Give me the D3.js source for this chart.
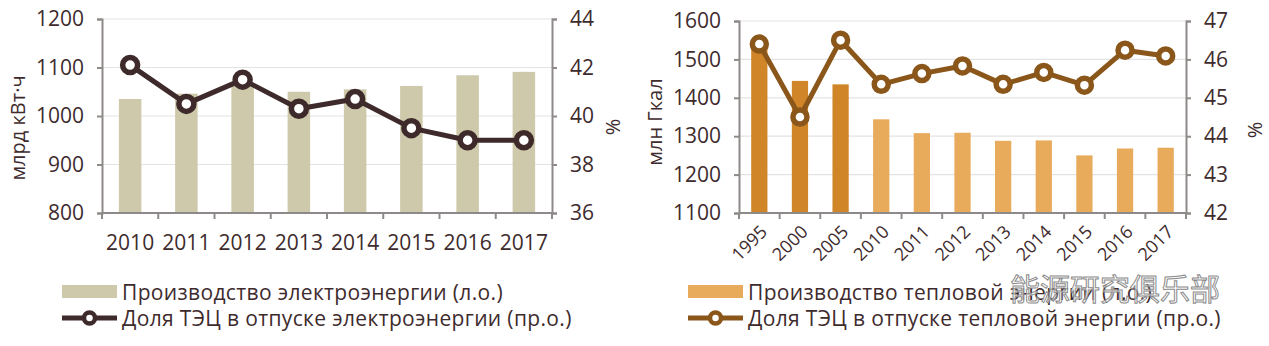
<!DOCTYPE html>
<html>
<head>
<meta charset="utf-8">
<script src="https://cdn.jsdelivr.net/npm/d3@7"></script>
<style>
  body { margin: 0; background: #fff; }
  svg { display: block; font-family: "Open Sans", sans-serif; }
</style>
</head>
<body>
<svg id="chart" width="1269" height="346"></svg>
<script>
// left chart: electricity
const elYears = ['2010', '2011', '2012', '2013', '2014', '2015', '2016', '2017'];
const elProduction = [1035, 1046, 1064, 1050, 1055, 1062, 1084, 1091];
const elShare = [42.1, 40.5, 41.5, 40.3, 40.7, 39.5, 39.0, 39.0];
const elLeftTicks = [800, 900, 1000, 1100, 1200];
const elRightTicks = [36, 38, 40, 42, 44];

// right chart: heat
const htYears = ['1995', '2000', '2005', '2010', '2011', '2012', '2013', '2014', '2015', '2016', '2017'];
const htProduction = [1530, 1444, 1435, 1344, 1308, 1309, 1288, 1289, 1250, 1268, 1270];
const htShare = [46.4, 44.5, 46.5, 45.35, 45.63, 45.83, 45.35, 45.66, 45.33, 46.24, 46.09];
const htLeftTicks = [1100, 1200, 1300, 1400, 1500, 1600];
const htRightTicks = [42, 43, 44, 45, 46, 47];

const textColor = '#3e2b2d';
const axisColor = '#8f8a8a';
const gridColor = '#e3e3e3';

const svg = d3.select('#chart');

function drawChart(opt) {
  const g = svg.append('g');
  const x = d3.scaleBand().domain(opt.cats).range([opt.left, opt.right])
    .paddingInner(0.6).paddingOuter(0.3);
  const yL = d3.scaleLinear().domain(d3.extent(opt.leftTicks)).range([opt.bottom, opt.top]);
  const yR = d3.scaleLinear().domain(d3.extent(opt.rightTicks)).range([opt.bottom, opt.top]);

  // grid
  g.selectAll('.grid').data(opt.leftTicks.slice(1)).enter().append('line')
    .attr('x1', opt.left).attr('x2', opt.right)
    .attr('y1', d => yL(d)).attr('y2', d => yL(d))
    .attr('stroke', gridColor).attr('stroke-width', 1.2);

  // bars
  g.selectAll('rect').data(opt.bars).enter().append('rect')
    .attr('x', (d, i) => x(opt.cats[i]))
    .attr('width', x.bandwidth())
    .attr('y', d => yL(d))
    .attr('height', d => opt.bottom - yL(d))
    .attr('fill', (d, i) => opt.barColor(i));

  // axes
  const la = g.append('g').attr('transform', `translate(${opt.left},0)`)
    .call(d3.axisLeft(yL).tickValues(opt.leftTicks).tickFormat(d3.format('d'))
      .tickSize(5).tickPadding(13));
  const ra = g.append('g').attr('transform', `translate(${opt.right},0)`)
    .call(d3.axisRight(yR).tickValues(opt.rightTicks).tickFormat(d3.format('d'))
      .tickSize(5).tickPadding(13));
  [la, ra].forEach(a => {
    a.select('.domain').attr('stroke', axisColor).attr('stroke-width', 2);
    a.selectAll('.tick line').attr('stroke', axisColor).attr('stroke-width', 2);
    a.selectAll('.tick text').attr('fill', textColor).style('font-size', '21px')
      .style('font-family', '"Open Sans", sans-serif');
  });

  // x axis line and ticks at band edges
  g.append('line').attr('x1', opt.left).attr('x2', opt.right)
    .attr('y1', opt.bottom).attr('y2', opt.bottom)
    .attr('stroke', axisColor).attr('stroke-width', 2);
  g.selectAll('.xt').data(d3.range(opt.cats.length + 1)).enter().append('line')
    .attr('x1', i => opt.left + i * x.step()).attr('x2', i => opt.left + i * x.step())
    .attr('y1', opt.bottom).attr('y2', opt.bottom + 6)
    .attr('stroke', axisColor).attr('stroke-width', 2);

  const cx = c => x(c) + x.bandwidth() / 2;
  if (opt.rotate) {
    g.selectAll('.xl').data(opt.cats).enter().append('text')
      .attr('transform', d => `translate(${cx(d) + 9},${opt.bottom + 20}) rotate(-45)`)
      .attr('text-anchor', 'end').attr('fill', textColor)
      .style('font-size', '18px').text(d => d);
  } else {
    g.selectAll('.xl').data(opt.cats).enter().append('text')
      .attr('x', d => cx(d)).attr('y', opt.bottom + 37)
      .attr('text-anchor', 'middle').attr('fill', textColor)
      .style('font-size', '21px').text(d => d);
  }

  // axis titles
  g.append('text').attr('transform', `translate(${opt.leftTitleX},${opt.leftTitleY}) rotate(-90)`)
    .attr('text-anchor', 'middle').attr('fill', textColor).style('font-size', '20px').text(opt.leftTitle);
  g.append('text').attr('transform', `translate(${opt.rightTitleX},${opt.rightTitleY}) rotate(-90)`)
    .attr('text-anchor', 'middle').attr('fill', textColor).style('font-size', '20px').text('%');

  // line
  const line = d3.line().x((d, i) => cx(opt.cats[i])).y(d => yR(d));
  g.append('path').datum(opt.line).attr('d', line)
    .attr('fill', 'none').attr('stroke', opt.lineColor).attr('stroke-width', 5)
    .attr('stroke-linejoin', 'round');
  g.selectAll('.mk').data(opt.line).enter().append('circle')
    .attr('cx', (d, i) => cx(opt.cats[i])).attr('cy', d => yR(d))
    .attr('r', opt.markerR).attr('fill', '#fff')
    .attr('stroke', opt.lineColor).attr('stroke-width', 5.5);

  // legend
  const lg = g.append('g').attr('transform', `translate(${opt.legendX},0)`);
  lg.append('rect').attr('x', 0).attr('y', 285).attr('width', 55).attr('height', 13)
    .attr('fill', opt.legendBarColor);
  lg.append('text').attr('x', 60).attr('y', 300).attr('fill', textColor)
    .style('font-size', '21px').style('letter-spacing', '0.35px').text(opt.legendBar);
  lg.append('line').attr('x1', 0).attr('x2', 55).attr('y1', 318).attr('y2', 318)
    .attr('stroke', opt.lineColor).attr('stroke-width', 5);
  lg.append('circle').attr('cx', 27.5).attr('cy', 318).attr('r', 5.5)
    .attr('fill', '#fff').attr('stroke', opt.lineColor).attr('stroke-width', 4.5);
  lg.append('text').attr('x', 60).attr('y', 326).attr('fill', textColor)
    .style('font-size', '21px').style('letter-spacing', '0.35px').text(opt.legendLine);
}

drawChart({
  cats: elYears, bars: elProduction, line: elShare,
  leftTicks: elLeftTicks, rightTicks: elRightTicks,
  left: 102, right: 552, top: 19, bottom: 213,
  barColor: () => '#cec9aa', legendBarColor: '#cec9aa',
  lineColor: '#3e2a2b', markerR: 7.5,
  leftTitle: 'млрд кВт·ч', leftTitleX: 25, leftTitleY: 128,
  rightTitleX: 620, rightTitleY: 127,
  legendX: 62,
  legendBar: 'Производство электроэнергии (л.о.)',
  legendLine: 'Доля ТЭЦ в отпуске электроэнергии (пр.о.)'
});

drawChart({
  cats: htYears, bars: htProduction, line: htShare,
  leftTicks: htLeftTicks, rightTicks: htRightTicks,
  left: 739, right: 1186, top: 21, bottom: 213, rotate: true,
  barColor: i => i < 3 ? '#d08628' : '#e8ab5c', legendBarColor: '#e8ab5c',
  lineColor: '#8a561a', markerR: 7,
  leftTitle: 'млн Гкал', leftTitleX: 662, leftTitleY: 122,
  rightTitleX: 1262, rightTitleY: 130,
  legendX: 688,
  legendBar: 'Производство тепловой энергии (л.о.)',
  legendLine: 'Доля ТЭЦ в отпуске тепловой энергии (пр.о.)'
});

// watermark
svg.append('text').attr('x', 1010).attr('y', 300)
  .attr('fill', '#ffffff').attr('fill-opacity', 0.6)
  .attr('stroke', '#8a8a8a').attr('stroke-width', 1)
  .style('font-family', '"Noto Sans CJK SC", sans-serif').style('font-size', '30px')
  .text('能源研究俱乐部');
</script>
</body>
</html>
